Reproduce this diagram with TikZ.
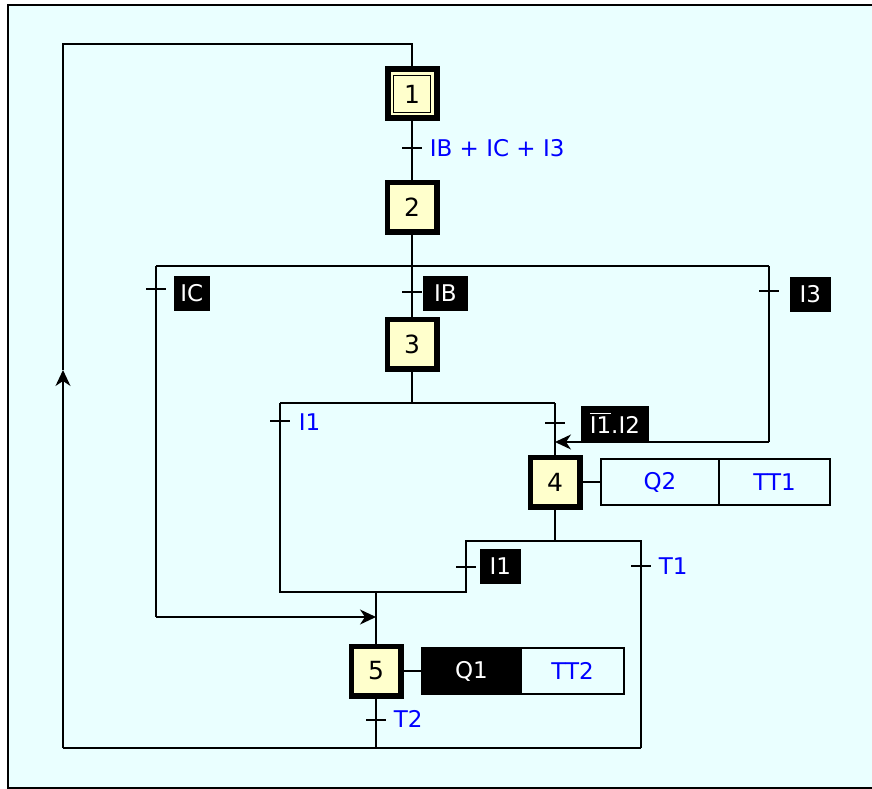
\documentclass[tikz,border=0pt]{standalone}
\usepackage{fontspec}
\setmainfont{DejaVu Sans}
\usetikzlibrary{arrows.meta}
\definecolor{bgcyan}{RGB}{234,255,255}
\definecolor{stepyellow}{RGB}{255,255,204}
\newcommand\nonbar[1]{\setbox0\hbox{#1}\rlap{\rule[0.82em]{\wd0}{1.3pt}}\box0}

\begin{document}
\begin{tikzpicture}[
    x=1pt, y=-1pt,
    font=\fontsize{23}{27}\selectfont,
    line width=1.7pt,
    etape/.style={draw, line width=5.5pt, fill=stepyellow, minimum size=49.5pt, inner sep=0pt, font=\fontsize{25}{28}\selectfont},
    blk/.style={fill=black, text=white, inner xsep=2pt, minimum height=35pt, anchor=west},
    lbl/.style={text=blue, anchor=west, inner sep=1pt},
    act/.style={draw, line width=1.7pt, minimum height=46pt, text=blue},
    arr/.style={-{Stealth[length=16pt, width=15pt, inset=5pt]}}
  ]
    \useasboundingbox (0,0) rectangle (872,789);
    \fill[white] (0,0) rectangle (872,789);
    \draw[fill=bgcyan, line width=1.6pt] (8,5) rectangle (876,788);

    % steps
    \node[etape, line width=6pt, minimum size=49pt] (e1) at (412,94) {};
    \node[draw, line width=1.3pt, fill=stepyellow, minimum size=37pt, inner sep=0pt,
          font=\fontsize{25}{28}\selectfont] (e1i) at (e1) {1};
    \node[etape] (e2) at (412,207) {2};
    \node[etape] (e3) at (412,344) {3};
    \node[etape] (e4) at (555,482) {4};
    \node[etape] (e5) at (376,671) {5};

    % actions
    \node[act, minimum width=118pt] (q2) at (660,482) {Q2};
    \node[act, minimum width=111pt] (tt1) at (774.5,482) {TT1};
    \node[act, fill=black, text=white, minimum width=99pt] (q1) at (471.5,671) {Q1};
    \node[act, minimum width=103pt] (tt2) at (572.5,671) {TT2};

    % junctions
    \coordinate (top) at (412,44);
    \coordinate (tl) at (63,44);
    \coordinate (up) at (63,370);
    \coordinate (bl) at (63,748);
    \coordinate (br) at (641,748);
    \coordinate (b5) at (376,748);
    \coordinate (dl) at (156,266);
    \coordinate (dr) at (769,266);
    \coordinate (cIC) at (156,617);
    \coordinate (j5) at (376,617);
    \coordinate (cI3) at (769,442);
    \coordinate (j4) at (555,442);
    \coordinate (d3) at (412,403);
    \coordinate (d3l) at (280,403);
    \coordinate (d3r) at (555,403);
    \coordinate (c1) at (280,592);
    \coordinate (c5) at (376,592);
    \coordinate (c2) at (466,592);
    \coordinate (d4l) at (466,541);
    \coordinate (d4) at (555,541);
    \coordinate (d4r) at (641,541);

    % links
    \draw (e1.north) -- (top) -- (tl) -- (up);
    \draw[arr] (bl) -- (up);
    \draw (bl) -- (br);
    \draw (e1) -- (e2);
    \draw (e2) -- (e3);
    \draw (dl) -- (dr);
    \draw (dl) -- (cIC);
    \draw[arr] (cIC) -- (j5);
    \draw (dr) -- (cI3);
    \draw[arr] (cI3) -- (j4);
    \draw (e3) -- (d3);
    \draw (d3l) -- (d3r);
    \draw (d3r) -- (e4);
    \draw (d3l) -- (c1) -- (c2) -- (d4l) -- (d4r) -- (br);
    \draw (e4) -- (d4);
    \draw (c5) -- (e5);
    \draw (e5) -- (b5);
    \draw (e4) -- (q2);
    \draw (e5) -- (q1);

    % transitions
    \coordinate (t12) at (412,148);
    \coordinate (tIC) at (156,289);
    \coordinate (tIB) at (412,292);
    \coordinate (tI3) at (769,291);
    \coordinate (tI1a) at (280,421);
    \coordinate (tI1I2) at (555,423);
    \coordinate (tI1b) at (466,567);
    \coordinate (tT1) at (641,566);
    \coordinate (tT2) at (376,720);
    \foreach \t in {t12,tIC,tIB,tI3,tI1a,tI1I2,tI1b,tT1,tT2}
      \draw ([xshift=-10pt]\t) -- ([xshift=10pt]\t);

    \node[lbl] (l12) at (428,148) {IB + IC + I3};
    \node[blk, minimum width=36pt] (lIC) at (173,293) {IC};
    \node[blk, minimum width=45pt] (lIB) at (422,293) {IB};
    \node[blk, minimum width=41pt] (lI3) at (789,294) {I3};
    \node[lbl] (lI1a) at (297,422) {I1};
    \node[blk, minimum width=68pt] (lI1I2) at (580,423) {\nonbar{I1}.I2};
    \node[blk, minimum width=41pt] (lI1b) at (479,566) {I1};
    \node[lbl] (lT1) at (657,566) {T1};
    \node[lbl] (lT2) at (392,719) {T2};
\end{tikzpicture}
\end{document}
